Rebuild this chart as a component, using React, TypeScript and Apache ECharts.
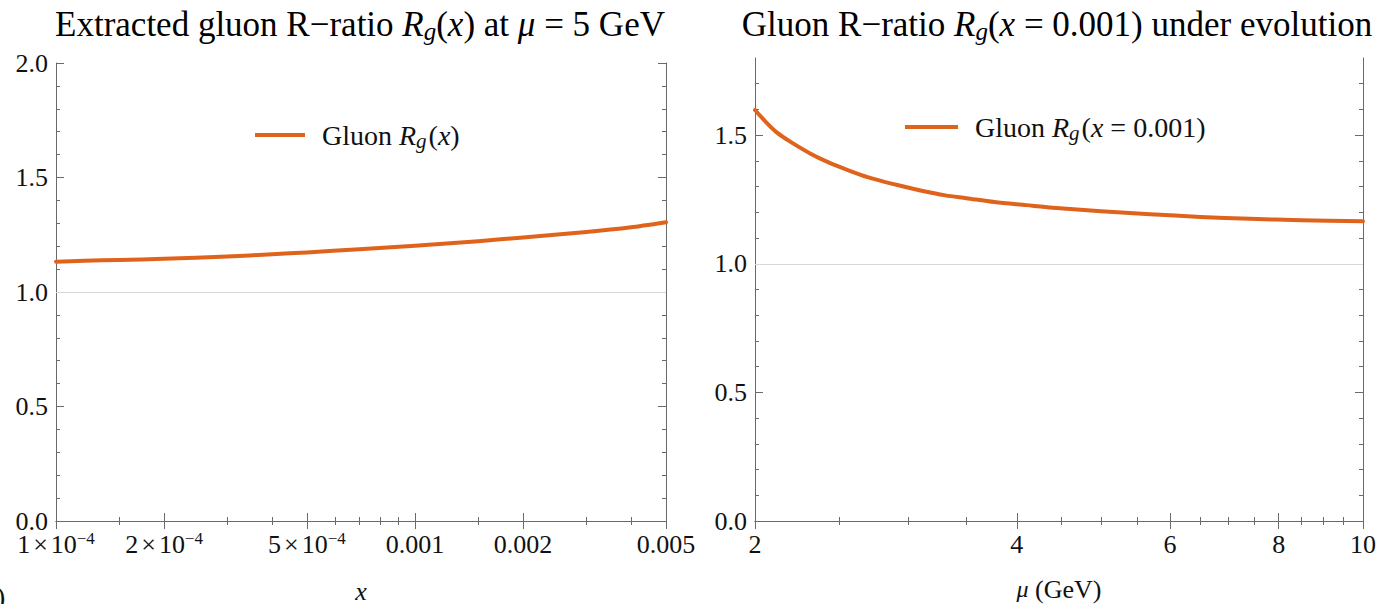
import React, { useEffect, useRef } from 'react';
import * as echarts from 'echarts';

// ---------- data ----------
const leftX = [1e-4, 1.2e-4, 1.5e-4, 2e-4, 3e-4, 4e-4, 5e-4, 7e-4, 1e-3, 1.5e-3, 2e-3, 3e-3, 4e-3, 5e-3];
const leftRg = [1.132, 1.137, 1.140, 1.145, 1.155, 1.165, 1.173, 1.187, 1.202, 1.222, 1.238, 1.262, 1.283, 1.305];

const rightMu = [2.0, 2.06, 2.12, 2.2, 2.32, 2.43, 2.54, 2.7, 2.9, 3.1, 3.31, 3.5, 3.77, 4.1, 4.4, 5.0, 5.69, 6.5, 7.41, 8.5, 10.0];
const rightRg = [1.598, 1.550, 1.510, 1.473, 1.427, 1.394, 1.368, 1.336, 1.308, 1.285, 1.266, 1.255, 1.240, 1.228, 1.218, 1.204, 1.193, 1.182, 1.175, 1.169, 1.165];

const leftMajorTicks = [1e-4, 2e-4, 5e-4, 1e-3, 2e-3, 5e-3];
const leftTickLabels = ['1{x|\u00d7}10{s|\u22124}', '2{x|\u00d7}10{s|\u22124}', '5{x|\u00d7}10{s|\u22124}', '0.001', '0.002', '0.005'];
const leftMinorTicks = [1.5e-4, 3e-4, 4e-4, 6e-4, 7e-4, 8e-4, 9e-4, 1.5e-3, 3e-3, 4e-3];

const rightMajorTicks = [2, 4, 6, 8, 10];
const rightTickLabels = ['2', '4', '6', '8', '10'];
const rightMinorTicks = [2.5, 3, 3.5, 4.5, 5, 5.5, 6.5, 7, 7.5, 8.5, 9, 9.5];

const leftYMajor = [0, 0.5, 1.0, 1.5, 2.0];
const leftYMinor = [0.1, 0.2, 0.3, 0.4, 0.6, 0.7, 0.8, 0.9, 1.1, 1.2, 1.3, 1.4, 1.6, 1.7, 1.8, 1.9];
const rightYMajor = [0, 0.5, 1.0, 1.5];
const rightYMinor = [0.1, 0.2, 0.3, 0.4, 0.6, 0.7, 0.8, 0.9, 1.1, 1.2, 1.3, 1.4, 1.6, 1.7];

const ORANGE = '#E0631C';
const FRAME = '#6a6a6a';
const FONT = 'Liberation Serif';
const TXT = '#111';
const TICK_FS = 26;

const lg = (v: number) => Math.log10(v);

const richTitle = {
  n: { fontFamily: FONT, fontSize: 35, color: TXT, lineHeight: 40 },
  i: { fontFamily: FONT, fontSize: 35, color: TXT, fontStyle: 'italic', lineHeight: 40 },
  sub: { fontFamily: FONT, fontSize: 25, color: TXT, fontStyle: 'italic', lineHeight: 25, verticalAlign: 'bottom' },
};
const richLegend = {
  f: { fontFamily: FONT, fontSize: 28, color: TXT, lineHeight: 32, padding: [0, 0, 0, 12] },
  n: { fontFamily: FONT, fontSize: 28, color: TXT, lineHeight: 32 },
  i: { fontFamily: FONT, fontSize: 28, color: TXT, fontStyle: 'italic', lineHeight: 32 },
  sub: { fontFamily: FONT, fontSize: 21, color: TXT, fontStyle: 'italic', lineHeight: 21, verticalAlign: 'bottom', padding: [0, 2, 0, 0] },
};

function makeXAxes(gridIndex: number, min: number, max: number, major: number[], minor: number[], labels: string[], name: string, nameRich: any, nameGap: number) {
  const majL = major.map(lg);
  const minL = minor.map(lg);
  const base = { type: 'value', gridIndex, min: lg(min), max: lg(max), splitLine: { show: false } };
  const fmt = (v: number) => {
    let idx = 0, best = Infinity;
    majL.forEach((m, k) => { const d = Math.abs(m - v); if (d < best) { best = d; idx = k; } });
    return labels[idx];
  };
  return [
    {
      ...base, position: 'bottom',
      axisLine: { show: true, lineStyle: { color: FRAME, width: 1 } },
      axisTick: { show: true, inside: true, length: 8, customValues: majL, lineStyle: { color: FRAME } },
      axisLabel: {
        show: true, customValues: majL, formatter: fmt, margin: 9,
        fontFamily: FONT, fontSize: TICK_FS, color: TXT, lineHeight: 28,
        rich: {
          s: { fontFamily: FONT, fontSize: 17, color: TXT, lineHeight: 17, verticalAlign: 'top' },
          x: { fontFamily: FONT, fontSize: TICK_FS, color: TXT, lineHeight: 28, padding: [0, 3, 0, 3] },
        },
      },
      name, nameLocation: 'middle', nameGap,
      nameTextStyle: { fontFamily: FONT, fontSize: 26, color: TXT, lineHeight: 26, rich: nameRich },
    },
    {
      ...base, position: 'bottom', axisLine: { show: false },
      axisTick: { show: true, inside: true, length: 4, customValues: minL, lineStyle: { color: FRAME } },
      axisLabel: { show: false },
    },
    {
      ...base, position: 'top', axisLine: { show: true, lineStyle: { color: FRAME, width: 1 } },
      axisTick: { show: true, inside: true, length: 8, customValues: majL, lineStyle: { color: FRAME } },
      axisLabel: { show: false },
    },
    {
      ...base, position: 'top', axisLine: { show: false },
      axisTick: { show: true, inside: true, length: 4, customValues: minL, lineStyle: { color: FRAME } },
      axisLabel: { show: false },
    },
  ];
}

function makeYAxes(gridIndex: number, min: number, max: number, major: number[], minor: number[]) {
  const base = { type: 'value', gridIndex, min, max, splitLine: { show: false } };
  return [
    {
      ...base, position: 'left',
      axisLine: { show: true, lineStyle: { color: FRAME, width: 1 } },
      axisTick: { show: true, inside: true, length: 8, customValues: major, lineStyle: { color: FRAME } },
      axisLabel: {
        show: true, customValues: major, formatter: (v: number) => v.toFixed(1), margin: 8,
        fontFamily: FONT, fontSize: TICK_FS, color: TXT,
      },
    },
    {
      ...base, position: 'left', axisLine: { show: false },
      axisTick: { show: true, inside: true, length: 4, customValues: minor, lineStyle: { color: FRAME } },
      axisLabel: { show: false },
    },
    {
      ...base, position: 'right', axisLine: { show: true, lineStyle: { color: FRAME, width: 1 } },
      axisTick: { show: true, inside: true, length: 8, customValues: major, lineStyle: { color: FRAME } },
      axisLabel: { show: false },
    },
    {
      ...base, position: 'right', axisLine: { show: false },
      axisTick: { show: true, inside: true, length: 4, customValues: minor, lineStyle: { color: FRAME } },
      axisLabel: { show: false },
    },
  ];
}

export default function App() {
  const ref = useRef<HTMLDivElement>(null);
  useEffect(() => {
    if (!ref.current) return;
    const chart = echarts.init(ref.current, undefined, { renderer: 'svg' });
    const refLine = {
      silent: true, symbol: 'none', label: { show: false },
      lineStyle: { color: '#d8d8d8', width: 1, type: 'solid' },
      data: [{ yAxis: 1 }],
    };
    const option: any = {
      animation: false,
      backgroundColor: '#fff',
      grid: [
        { left: 56, right: 718, top: 63, bottom: 83, containLabel: false, outerBoundsMode: 'none' },
        { left: 755, right: 21, top: 58, bottom: 83, containLabel: false, outerBoundsMode: 'none' },
      ],
      xAxis: [
        ...makeXAxes(0, 1e-4, 5e-3, leftMajorTicks, leftMinorTicks, leftTickLabels, '{i|x}',
          { i: { fontFamily: FONT, fontSize: 26, fontStyle: 'italic', color: TXT, lineHeight: 26 } }, 57),
        ...makeXAxes(1, 2, 10, rightMajorTicks, rightMinorTicks, rightTickLabels, '{i|\u03bc} (GeV)',
          { i: { fontFamily: FONT, fontSize: 24, fontStyle: 'italic', color: TXT, lineHeight: 26 } }, 55),
      ],
      yAxis: [
        ...makeYAxes(0, 0, 2, leftYMajor, leftYMinor),
        ...makeYAxes(1, 0, 1.8, rightYMajor, rightYMinor),
      ],
      legend: [
        {
          left: 255, top: 121, padding: 0, data: ['left'], icon: 'rect', itemWidth: 50, itemHeight: 4,
          formatter: () => '{f|Gluon }{i|R}{sub|g}{n|(}{i|x}{n|)}',
          textStyle: { rich: richLegend },
          selectedMode: false,
        },
        {
          left: 905, top: 113, padding: 0, data: ['right'], icon: 'rect', itemWidth: 53, itemHeight: 4,
          formatter: () => '{f|Gluon }{i|R}{sub|g}{n|(}{i|x}{n| = 0.001)}',
          textStyle: { rich: richLegend },
          selectedMode: false,
        },
      ],
      series: [
        {
          name: 'left', type: 'line', xAxisIndex: 0, yAxisIndex: 0,
          data: leftX.map((x, k) => [lg(x), leftRg[k]]),
          showSymbol: false, smooth: 0.2,
          color: ORANGE, lineStyle: { color: ORANGE, width: 4, join: 'round', cap: 'round' }, markLine: refLine, z: 3,
        },
        {
          name: 'right', type: 'line', xAxisIndex: 4, yAxisIndex: 4,
          data: rightMu.map((m, k) => [lg(m), rightRg[k]]),
          showSymbol: false, smooth: 0.3,
          color: ORANGE, lineStyle: { color: ORANGE, width: 4, join: 'round', cap: 'round' }, markLine: refLine, z: 3,
        },
      ],
      graphic: [
        {
          type: 'text', x: 360, y: 24,
          style: {
            text: '{n|Extracted gluon R\u2212ratio }{i|R}{sub|g}{n|(}{i|x}{n|) at }{i|\u03bc}{n| = 5 GeV}',
            rich: richTitle, align: 'center', verticalAlign: 'middle',
          },
        },
        {
          type: 'text', x: 1057, y: 24,
          style: {
            text: '{n|Gluon R\u2212ratio }{i|R}{sub|g}{n|(}{i|x}{n| = 0.001) under evolution}',
            rich: richTitle, align: 'center', verticalAlign: 'middle',
          },
        },
        {
          type: 'text', x: -4, y: 582,
          style: { text: ')', fontFamily: FONT, fontSize: 28, fill: TXT, verticalAlign: 'top' },
        },
      ],
    };
    chart.setOption(option);
    return () => chart.dispose();
  }, []);
  return <div ref={ref} style={{ position: 'fixed', left: 0, top: 0, width: 1384, height: 604, background: '#fff' }} />;
}
